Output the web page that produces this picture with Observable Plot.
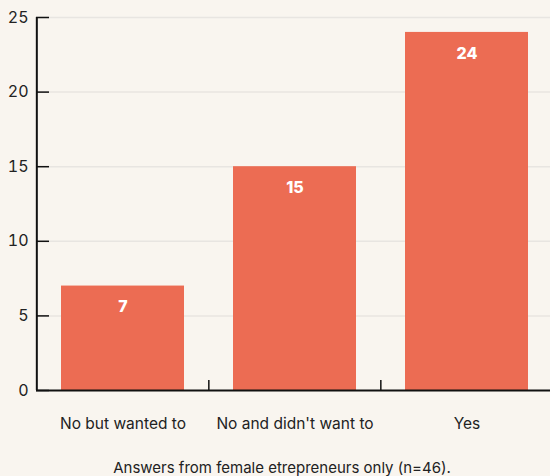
<!DOCTYPE html>
<html>
<head>
<meta charset="utf-8">
<script src="https://cdn.jsdelivr.net/npm/d3@7"></script>
<script src="https://cdn.jsdelivr.net/npm/@observablehq/plot@0.6"></script>
<style>
  html, body { margin: 0; padding: 0; background: #f9f5ef; }
  #chart svg { display: block; background: #f9f5ef; }
  #caption { width: 550px; text-align: center; font-family: Inter, "Noto Sans", sans-serif; font-size: 15px; color: #222; line-height: 26px; margin-left: 7px; }
</style>
</head>
<body>
<div id="chart"></div>
<div id="caption">Answers from female etrepreneurs only (n=46).</div>
<script>
const categories = ["No but wanted to", "No and didn't want to", "Yes"];
const counts = [7, 15, 24];
const yTicks = [0, 5, 10, 15, 20, 25];

const data = categories.map((c, i) => ({category: c, count: counts[i]}));
const W = 550, left = 36, right = 553;
const step = (right - left) / categories.length;
const font = "Inter, 'Noto Sans', sans-serif";

const chart = Plot.plot({
  width: W,
  height: 455,
  marginLeft: left,
  marginRight: 0,
  marginTop: 17,
  marginBottom: 65,
  style: {background: "#f9f5ef", fontFamily: font, color: "#222", overflow: "visible"},
  x: {domain: categories, range: [left, right], paddingInner: 0.285, paddingOuter: 0.1425, label: null},
  y: {domain: [0, 25], label: null},
  marks: [
    Plot.ruleY(yTicks.filter(d => d > 0), {stroke: "#e8e5e1", strokeWidth: 1.5}),
    Plot.barY(data, {x: "category", y: "count", fill: "#ec6c53"}),
    Plot.text(data, {x: "category", y: "count", text: d => String(d.count), dy: 21, fill: "#fff", fontWeight: 800, fontSize: 16}),
    Plot.axisY({ticks: yTicks, tickSize: -13, tickPadding: 21, fontSize: 16, stroke: "#111", strokeWidth: 1.5, fill: "#222", label: null}),
    Plot.axisX({tickSize: 0, tickPadding: 27, fontSize: 15.5, fill: "#222", label: null}),
    Plot.ruleY([0], {stroke: "#111", strokeWidth: 2}),
    Plot.ruleX(categories.slice(0, 1), {x: d => d, y1: 0, y2: 25, dx: -step / 2, stroke: "#111", strokeWidth: 2}),
    Plot.ruleX(categories.slice(1), {x: d => d, y1: 0, y2: 0, insetTop: -10, dx: -step / 2, stroke: "#111", strokeWidth: 1.5})
  ]
});
document.getElementById("chart").append(chart);
</script>
</body>
</html>
